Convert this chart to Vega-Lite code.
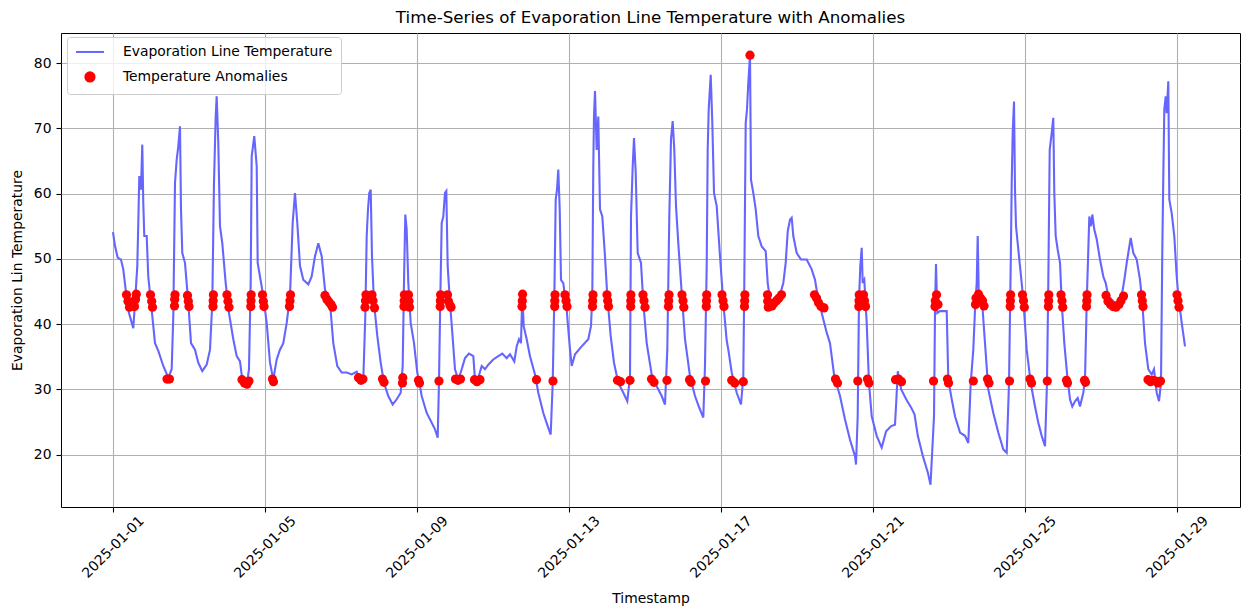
{
  "$schema": "https://vega.github.io/schema/vega-lite/v6.json",
  "width": 1179,
  "height": 474,
  "autosize": {"type": "none"},
  "padding": {"left": 61, "top": 33, "right": 2, "bottom": 102},
  "background": "white",
  "config": {
    "view": {"stroke": "#000000", "strokeWidth": 1},
    "font": "DejaVu Sans"
  },
  "title": {
    "text": "Time-Series of Evaporation Line Temperature with Anomalies",
    "font": "DejaVu Sans",
    "fontSize": 16.7,
    "fontWeight": "normal",
    "color": "#000000",
    "anchor": "middle",
    "frame": "group",
    "baseline": "alphabetic",
    "offset": 10,
    "dy": 17
  },
  "datasets": {
    "line": [
      {"t":"2025-01-01T00:00","v":54.1},{"t":"2025-01-01T01:16","v":52.0},{"t":"2025-01-01T02:58","v":50.2},{"t":"2025-01-01T05:03","v":49.9},{"t":"2025-01-01T06:30","v":48.4},{"t":"2025-01-01T08:01","v":45.3},{"t":"2025-01-01T10:06","v":41.7},{"t":"2025-01-01T12:49","v":39.4},{"t":"2025-01-01T13:54","v":43.3},{"t":"2025-01-01T15:21","v":48.9},{"t":"2025-01-01T15:59","v":55.5},{"t":"2025-01-01T16:37","v":62.7},{"t":"2025-01-01T17:41","v":60.6},{"t":"2025-01-01T18:30","v":67.5},{"t":"2025-01-01T19:08","v":58.6},{"t":"2025-01-01T19:46","v":53.5},{"t":"2025-01-01T21:17","v":53.5},{"t":"2025-01-01T22:17","v":47.3},
      {"t":"2025-01-02T00:26","v":42.2},{"t":"2025-01-02T02:32","v":37.1},{"t":"2025-01-02T04:37","v":35.9},{"t":"2025-01-02T07:46","v":33.6},{"t":"2025-01-02T10:56","v":31.8},{"t":"2025-01-02T13:04","v":33.1},{"t":"2025-01-02T14:05","v":41.2},{"t":"2025-01-02T15:10","v":61.6},{"t":"2025-01-02T16:14","v":65.2},{"t":"2025-01-02T17:14","v":67.2},{"t":"2025-01-02T18:19","v":70.3},{"t":"2025-01-02T18:57","v":57.6},{"t":"2025-01-02T19:46","v":50.9},{"t":"2025-01-02T21:28","v":49.4},{"t":"2025-01-02T23:34","v":43.3},
      {"t":"2025-01-03T01:16","v":37.1},{"t":"2025-01-03T03:47","v":36.1},{"t":"2025-01-03T05:52","v":34.1},{"t":"2025-01-03T08:24","v":32.8},{"t":"2025-01-03T11:11","v":33.8},{"t":"2025-01-03T13:16","v":36.1},{"t":"2025-01-03T14:43","v":43.3},{"t":"2025-01-03T15:47","v":61.6},{"t":"2025-01-03T16:52","v":71.8},{"t":"2025-01-03T17:29","v":74.9},{"t":"2025-01-03T18:30","v":67.8},{"t":"2025-01-03T19:35","v":55.0},{"t":"2025-01-03T21:02","v":52.4},{"t":"2025-01-03T23:11","v":46.3},
      {"t":"2025-01-04T01:16","v":41.7},{"t":"2025-01-04T03:59","v":37.7},{"t":"2025-01-04T06:08","v":35.1},{"t":"2025-01-04T08:13","v":34.3},{"t":"2025-01-04T09:40","v":31.5},{"t":"2025-01-04T12:26","v":30.5},{"t":"2025-01-04T13:53","v":33.1},{"t":"2025-01-04T14:58","v":46.3},{"t":"2025-01-04T15:36","v":65.7},{"t":"2025-01-04T17:14","v":68.8},{"t":"2025-01-04T18:46","v":64.2},{"t":"2025-01-04T19:23","v":49.4},{"t":"2025-01-04T20:50","v":47.3},{"t":"2025-01-04T22:56","v":44.3},
      {"t":"2025-01-05T01:04","v":40.2},{"t":"2025-01-05T03:10","v":34.1},{"t":"2025-01-05T05:14","v":31.5},{"t":"2025-01-05T07:23","v":34.6},{"t":"2025-01-05T09:28","v":36.1},{"t":"2025-01-05T11:34","v":37.1},{"t":"2025-01-05T13:43","v":40.2},{"t":"2025-01-05T15:47","v":44.3},{"t":"2025-01-05T17:29","v":55.5},{"t":"2025-01-05T18:57","v":60.1},{"t":"2025-01-05T20:24","v":55.5},{"t":"2025-01-05T22:07","v":48.9},
      {"t":"2025-01-06T00:11","v":46.8},{"t":"2025-01-06T03:21","v":46.1},{"t":"2025-01-06T05:29","v":47.3},{"t":"2025-01-06T07:35","v":50.4},{"t":"2025-01-06T09:40","v":52.4},{"t":"2025-01-06T11:49","v":50.4},{"t":"2025-01-06T13:53","v":45.3},{"t":"2025-01-06T17:03","v":43.3},{"t":"2025-01-06T19:08","v":37.1},{"t":"2025-01-06T21:40","v":33.6},
      {"t":"2025-01-07T00:26","v":32.6},{"t":"2025-01-07T03:36","v":32.6},{"t":"2025-01-07T06:46","v":32.3},{"t":"2025-01-07T09:55","v":32.7},{"t":"2025-01-07T12:00","v":31.3},{"t":"2025-01-07T14:05","v":31.5},{"t":"2025-01-07T15:21","v":41.2},{"t":"2025-01-07T16:14","v":53.5},{"t":"2025-01-07T17:03","v":57.6},{"t":"2025-01-07T17:52","v":60.1},{"t":"2025-01-07T18:46","v":60.6},{"t":"2025-01-07T19:35","v":50.4},{"t":"2025-01-07T20:50","v":43.3},{"t":"2025-01-07T22:56","v":38.2},
      {"t":"2025-01-08T01:04","v":34.1},{"t":"2025-01-08T03:10","v":31.0},{"t":"2025-01-08T05:52","v":29.0},{"t":"2025-01-08T08:39","v":27.7},{"t":"2025-01-08T11:11","v":28.5},{"t":"2025-01-08T13:42","v":29.5},{"t":"2025-01-08T14:58","v":33.6},{"t":"2025-01-08T15:47","v":46.3},{"t":"2025-01-08T16:37","v":56.8},{"t":"2025-01-08T17:29","v":54.5},{"t":"2025-01-08T18:31","v":46.3},{"t":"2025-01-08T20:01","v":40.2},{"t":"2025-01-08T22:07","v":37.1},
      {"t":"2025-01-09T00:11","v":32.6},{"t":"2025-01-09T01:53","v":30.5},{"t":"2025-01-09T02:58","v":29.0},{"t":"2025-01-09T06:08","v":26.4},{"t":"2025-01-09T09:17","v":24.9},{"t":"2025-01-09T11:22","v":23.9},{"t":"2025-01-09T13:04","v":22.6},{"t":"2025-01-09T13:53","v":31.0},{"t":"2025-01-09T14:43","v":43.8},{"t":"2025-01-09T15:36","v":55.5},{"t":"2025-01-09T16:37","v":56.5},{"t":"2025-01-09T17:41","v":60.1},{"t":"2025-01-09T18:31","v":60.4},{"t":"2025-01-09T19:23","v":48.9},{"t":"2025-01-09T20:50","v":43.3},{"t":"2025-01-09T22:18","v":38.7},
      {"t":"2025-01-10T00:00","v":33.1},{"t":"2025-01-10T02:05","v":31.5},{"t":"2025-01-10T04:14","v":33.1},{"t":"2025-01-10T06:19","v":34.8},{"t":"2025-01-10T08:50","v":35.5},{"t":"2025-01-10T11:34","v":35.1},{"t":"2025-01-10T12:38","v":31.5},{"t":"2025-01-10T14:43","v":31.8},{"t":"2025-01-10T16:52","v":33.6},{"t":"2025-01-10T18:57","v":33.1},{"t":"2025-01-10T21:02","v":33.8},
      {"t":"2025-01-11T00:11","v":34.6},{"t":"2025-01-11T03:21","v":35.1},{"t":"2025-01-11T05:52","v":35.5},{"t":"2025-01-11T08:39","v":34.8},{"t":"2025-01-11T10:44","v":35.4},{"t":"2025-01-11T13:27","v":34.3},{"t":"2025-01-11T14:58","v":36.6},{"t":"2025-01-11T16:25","v":37.7},{"t":"2025-01-11T17:41","v":37.1},{"t":"2025-01-11T18:31","v":44.6},{"t":"2025-01-11T19:23","v":39.7},{"t":"2025-01-11T21:17","v":37.7},{"t":"2025-01-11T23:22","v":35.1},
      {"t":"2025-01-12T02:32","v":32.3},{"t":"2025-01-12T04:37","v":29.5},{"t":"2025-01-12T07:46","v":26.4},{"t":"2025-01-12T10:33","v":24.4},{"t":"2025-01-12T12:26","v":23.1},{"t":"2025-01-12T13:43","v":31.0},{"t":"2025-01-12T14:43","v":43.8},{"t":"2025-01-12T15:36","v":59.1},{"t":"2025-01-12T16:25","v":60.6},{"t":"2025-01-12T17:14","v":63.7},{"t":"2025-01-12T18:08","v":57.6},{"t":"2025-01-12T18:57","v":46.8},{"t":"2025-01-12T20:24","v":46.3},{"t":"2025-01-12T22:33","v":42.2},
      {"t":"2025-01-13T00:38","v":36.1},{"t":"2025-01-13T01:43","v":33.6},{"t":"2025-01-13T03:47","v":35.4},{"t":"2025-01-13T08:01","v":36.6},{"t":"2025-01-13T12:11","v":37.7},{"t":"2025-01-13T13:53","v":39.7},{"t":"2025-01-13T14:43","v":44.3},{"t":"2025-01-13T15:21","v":64.2},{"t":"2025-01-13T15:47","v":71.8},{"t":"2025-01-13T16:25","v":75.7},{"t":"2025-01-13T17:29","v":66.7},{"t":"2025-01-13T18:30","v":71.8},{"t":"2025-01-13T19:35","v":57.6},{"t":"2025-01-13T21:02","v":56.5},{"t":"2025-01-13T22:44","v":50.4},
      {"t":"2025-01-14T00:11","v":44.3},{"t":"2025-01-14T02:20","v":38.2},{"t":"2025-01-14T04:25","v":34.1},{"t":"2025-01-14T07:08","v":31.0},{"t":"2025-01-14T10:18","v":29.5},{"t":"2025-01-14T12:49","v":28.2},{"t":"2025-01-14T14:32","v":32.0},{"t":"2025-01-14T15:10","v":56.5},{"t":"2025-01-14T16:14","v":64.2},{"t":"2025-01-14T17:03","v":68.5},{"t":"2025-01-14T18:08","v":63.2},{"t":"2025-01-14T19:23","v":50.9},{"t":"2025-01-14T21:28","v":49.4},{"t":"2025-01-14T22:56","v":43.3},
      {"t":"2025-01-15T01:04","v":37.1},{"t":"2025-01-15T04:14","v":32.3},{"t":"2025-01-15T07:23","v":30.5},{"t":"2025-01-15T10:33","v":29.0},{"t":"2025-01-15T12:38","v":27.7},{"t":"2025-01-15T14:05","v":36.1},{"t":"2025-01-15T15:21","v":56.5},{"t":"2025-01-15T16:25","v":68.3},{"t":"2025-01-15T17:29","v":71.1},{"t":"2025-01-15T18:30","v":66.7},{"t":"2025-01-15T19:35","v":58.1},{"t":"2025-01-15T21:02","v":52.4},{"t":"2025-01-15T23:11","v":44.8},
      {"t":"2025-01-16T01:16","v":37.7},{"t":"2025-01-16T04:25","v":32.0},{"t":"2025-01-16T07:35","v":29.0},{"t":"2025-01-16T10:17","v":27.2},{"t":"2025-01-16T12:49","v":25.7},{"t":"2025-01-16T13:53","v":33.6},{"t":"2025-01-16T14:58","v":48.9},{"t":"2025-01-16T15:36","v":66.7},{"t":"2025-01-16T16:14","v":72.9},{"t":"2025-01-16T17:30","v":78.2},{"t":"2025-01-16T18:31","v":70.8},{"t":"2025-01-16T19:35","v":60.1},{"t":"2025-01-16T21:17","v":58.1},{"t":"2025-01-16T23:22","v":50.4},
      {"t":"2025-01-17T01:27","v":43.3},{"t":"2025-01-17T03:36","v":37.5},{"t":"2025-01-17T04:37","v":36.1},{"t":"2025-01-17T06:46","v":32.6},{"t":"2025-01-17T09:55","v":29.5},{"t":"2025-01-17T12:38","v":27.7},{"t":"2025-01-17T14:05","v":32.0},{"t":"2025-01-17T14:43","v":46.3},{"t":"2025-01-17T15:36","v":70.8},{"t":"2025-01-17T16:25","v":72.9},{"t":"2025-01-17T17:14","v":76.9},{"t":"2025-01-17T18:19","v":81.2},{"t":"2025-01-17T18:57","v":62.1},{"t":"2025-01-17T20:24","v":60.1},{"t":"2025-01-17T21:55","v":57.6},{"t":"2025-01-17T23:34","v":53.5},
      {"t":"2025-01-18T01:43","v":51.9},{"t":"2025-01-18T04:14","v":51.2},{"t":"2025-01-18T05:30","v":46.3},{"t":"2025-01-18T06:57","v":43.8},{"t":"2025-01-18T10:07","v":43.3},{"t":"2025-01-18T13:16","v":44.5},{"t":"2025-01-18T15:21","v":46.3},{"t":"2025-01-18T16:52","v":49.4},{"t":"2025-01-18T18:08","v":54.2},{"t":"2025-01-18T19:35","v":56.0},{"t":"2025-01-18T20:39","v":56.3},{"t":"2025-01-18T21:40","v":53.5},{"t":"2025-01-18T23:49","v":50.9},
      {"t":"2025-01-19T02:32","v":49.9},{"t":"2025-01-19T06:08","v":49.9},{"t":"2025-01-19T09:17","v":48.4},{"t":"2025-01-19T11:22","v":46.8},{"t":"2025-01-19T13:04","v":44.3},{"t":"2025-01-19T15:36","v":41.7},{"t":"2025-01-19T18:46","v":38.7},{"t":"2025-01-19T20:50","v":37.1},{"t":"2025-01-19T23:34","v":32.0},
      {"t":"2025-01-20T03:10","v":29.0},{"t":"2025-01-20T06:19","v":25.4},{"t":"2025-01-20T09:28","v":22.3},{"t":"2025-01-20T12:38","v":19.8},{"t":"2025-01-20T13:16","v":18.5},{"t":"2025-01-20T14:20","v":25.9},{"t":"2025-01-20T15:10","v":43.8},{"t":"2025-01-20T15:59","v":48.9},{"t":"2025-01-20T16:52","v":51.7},{"t":"2025-01-20T17:29","v":46.3},{"t":"2025-01-20T18:30","v":46.8},{"t":"2025-01-20T20:01","v":40.2},{"t":"2025-01-20T21:28","v":31.0},{"t":"2025-01-20T23:11","v":25.9},
      {"t":"2025-01-21T02:20","v":22.9},{"t":"2025-01-21T05:29","v":21.1},{"t":"2025-01-21T08:17","v":23.6},{"t":"2025-01-21T11:27","v":24.4},{"t":"2025-01-21T13:53","v":24.6},{"t":"2025-01-21T14:40","v":28.0},{"t":"2025-01-21T15:40","v":32.8},{"t":"2025-01-21T17:49","v":30.0},{"t":"2025-01-21T20:58","v":28.5},
      {"t":"2025-01-22T00:08","v":27.2},{"t":"2025-01-22T02:13","v":26.2},{"t":"2025-01-22T04:18","v":22.9},{"t":"2025-01-22T07:28","v":19.8},{"t":"2025-01-22T10:37","v":17.3},{"t":"2025-01-22T12:19","v":15.4},{"t":"2025-01-22T14:32","v":25.9},{"t":"2025-01-22T15:10","v":42.2},{"t":"2025-01-22T15:47","v":49.2},{"t":"2025-01-22T16:37","v":41.7},{"t":"2025-01-22T18:19","v":42.0},{"t":"2025-01-22T22:33","v":42.0},{"t":"2025-01-22T23:34","v":31.5},
      {"t":"2025-01-23T01:43","v":28.5},{"t":"2025-01-23T03:47","v":25.9},{"t":"2025-01-23T06:57","v":23.4},{"t":"2025-01-23T10:07","v":22.9},{"t":"2025-01-23T12:11","v":21.8},{"t":"2025-01-23T13:43","v":31.0},{"t":"2025-01-23T15:21","v":36.1},{"t":"2025-01-23T16:37","v":43.3},{"t":"2025-01-23T17:30","v":46.3},{"t":"2025-01-23T18:08","v":53.5},{"t":"2025-01-23T18:46","v":44.8},{"t":"2025-01-23T20:39","v":44.3},{"t":"2025-01-23T22:44","v":37.1},
      {"t":"2025-01-24T00:49","v":30.0},{"t":"2025-01-24T03:59","v":26.4},{"t":"2025-01-24T07:08","v":23.4},{"t":"2025-01-24T10:18","v":20.8},{"t":"2025-01-24T12:26","v":20.3},{"t":"2025-01-24T13:54","v":31.0},{"t":"2025-01-24T14:58","v":48.9},{"t":"2025-01-24T15:36","v":61.6},{"t":"2025-01-24T16:14","v":69.3},{"t":"2025-01-24T17:03","v":74.1},{"t":"2025-01-24T17:41","v":60.6},{"t":"2025-01-24T18:19","v":55.0},{"t":"2025-01-24T19:23","v":52.4},{"t":"2025-01-24T20:50","v":48.9},{"t":"2025-01-24T22:56","v":43.8},
      {"t":"2025-01-25T01:04","v":36.1},{"t":"2025-01-25T03:36","v":31.0},{"t":"2025-01-25T06:19","v":27.4},{"t":"2025-01-25T08:24","v":24.9},{"t":"2025-01-25T10:33","v":22.9},{"t":"2025-01-25T12:38","v":21.3},{"t":"2025-01-25T13:53","v":31.0},{"t":"2025-01-25T14:43","v":46.3},{"t":"2025-01-25T15:36","v":66.7},{"t":"2025-01-25T16:52","v":69.3},{"t":"2025-01-25T17:52","v":71.6},{"t":"2025-01-25T18:30","v":60.1},{"t":"2025-01-25T19:23","v":53.5},{"t":"2025-01-25T20:39","v":51.4},{"t":"2025-01-25T22:07","v":49.4},{"t":"2025-01-25T23:11","v":43.3},
      {"t":"2025-01-26T00:49","v":37.1},{"t":"2025-01-26T02:43","v":32.0},{"t":"2025-01-26T04:25","v":28.5},{"t":"2025-01-26T05:52","v":27.4},{"t":"2025-01-26T07:35","v":28.2},{"t":"2025-01-26T09:17","v":28.7},{"t":"2025-01-26T10:44","v":27.4},{"t":"2025-01-26T12:49","v":29.5},{"t":"2025-01-26T13:53","v":31.5},{"t":"2025-01-26T14:58","v":43.3},{"t":"2025-01-26T15:59","v":51.4},{"t":"2025-01-26T16:37","v":56.5},{"t":"2025-01-26T17:41","v":55.0},{"t":"2025-01-26T18:31","v":56.8},{"t":"2025-01-26T19:46","v":54.5},{"t":"2025-01-26T21:17","v":53.0},{"t":"2025-01-26T23:22","v":49.9},
      {"t":"2025-01-27T01:27","v":47.3},{"t":"2025-01-27T02:58","v":46.3},{"t":"2025-01-27T04:37","v":44.3},{"t":"2025-01-27T07:46","v":43.5},{"t":"2025-01-27T10:56","v":43.0},{"t":"2025-01-27T13:04","v":44.3},{"t":"2025-01-27T14:43","v":46.8},{"t":"2025-01-27T16:14","v":49.4},{"t":"2025-01-27T17:14","v":50.9},{"t":"2025-01-27T18:46","v":53.2},{"t":"2025-01-27T20:24","v":50.9},{"t":"2025-01-27T22:33","v":49.9},
      {"t":"2025-01-28T00:38","v":46.8},{"t":"2025-01-28T02:05","v":43.3},{"t":"2025-01-28T03:47","v":37.1},{"t":"2025-01-28T05:52","v":33.1},{"t":"2025-01-28T08:01","v":32.3},{"t":"2025-01-28T09:28","v":33.1},{"t":"2025-01-28T11:11","v":29.5},{"t":"2025-01-28T12:38","v":28.2},{"t":"2025-01-28T13:53","v":31.0},{"t":"2025-01-28T14:43","v":51.4},{"t":"2025-01-28T15:21","v":62.7},{"t":"2025-01-28T15:59","v":72.9},{"t":"2025-01-28T16:52","v":74.9},{"t":"2025-01-28T17:29","v":72.3},{"t":"2025-01-28T18:30","v":77.2},{"t":"2025-01-28T19:08","v":59.1},{"t":"2025-01-28T20:39","v":57.0},{"t":"2025-01-28T22:17","v":53.5},{"t":"2025-01-28T23:49","v":47.3},
      {"t":"2025-01-29T00:49","v":44.3},{"t":"2025-01-29T02:58","v":40.2},{"t":"2025-01-29T05:03","v":36.6}
    ],
    "anom": [
      {"t":"2025-01-01T08:32","v":44.5},{"t":"2025-01-01T09:28","v":43.5},{"t":"2025-01-01T10:25","v":42.6},{"t":"2025-01-01T13:35","v":42.7},{"t":"2025-01-01T14:13","v":43.8},{"t":"2025-01-01T14:43","v":44.6},
      {"t":"2025-01-01T23:41","v":44.5},{"t":"2025-01-02T00:26","v":43.5},{"t":"2025-01-02T00:57","v":42.6},
      {"t":"2025-01-02T14:50","v":42.8},{"t":"2025-01-02T14:58","v":43.8},{"t":"2025-01-02T15:10","v":44.5},
      {"t":"2025-01-02T23:03","v":44.4},{"t":"2025-01-02T23:34","v":43.5},{"t":"2025-01-03T00:00","v":42.7},
      {"t":"2025-01-03T15:09","v":42.7},{"t":"2025-01-03T15:17","v":43.6},{"t":"2025-01-03T15:25","v":44.5},
      {"t":"2025-01-04T00:00","v":44.5},{"t":"2025-01-04T00:38","v":43.5},{"t":"2025-01-04T01:16","v":42.6},
      {"t":"2025-01-04T15:02","v":42.7},{"t":"2025-01-04T15:10","v":43.6},{"t":"2025-01-04T15:17","v":44.5},
      {"t":"2025-01-04T22:25","v":44.5},{"t":"2025-01-04T22:56","v":43.5},{"t":"2025-01-04T23:22","v":42.7},
      {"t":"2025-01-05T15:28","v":42.7},{"t":"2025-01-05T15:47","v":43.6},{"t":"2025-01-05T16:07","v":44.5},
      {"t":"2025-01-06T13:53","v":44.4},{"t":"2025-01-06T15:09","v":43.8},{"t":"2025-01-06T16:25","v":43.4},{"t":"2025-01-06T17:41","v":43.0},{"t":"2025-01-06T18:38","v":42.6},
      {"t":"2025-01-07T15:10","v":42.6},{"t":"2025-01-07T15:28","v":43.6},{"t":"2025-01-07T15:47","v":44.5},{"t":"2025-01-07T19:35","v":44.5},{"t":"2025-01-07T20:13","v":43.6},{"t":"2025-01-07T21:10","v":42.5},
      {"t":"2025-01-08T15:47","v":42.7},{"t":"2025-01-08T15:55","v":43.6},{"t":"2025-01-08T16:02","v":44.5},{"t":"2025-01-08T18:38","v":44.5},{"t":"2025-01-08T18:57","v":43.5},{"t":"2025-01-08T19:16","v":42.6},
      {"t":"2025-01-09T14:39","v":42.7},{"t":"2025-01-09T14:47","v":43.6},{"t":"2025-01-09T14:55","v":44.5},{"t":"2025-01-09T19:16","v":44.5},{"t":"2025-01-09T19:53","v":43.5},{"t":"2025-01-09T20:50","v":42.9},{"t":"2025-01-09T21:28","v":42.6},
      {"t":"2025-01-11T18:19","v":42.7},{"t":"2025-01-11T18:31","v":43.6},{"t":"2025-01-11T18:41","v":44.6},
      {"t":"2025-01-12T14:58","v":42.7},{"t":"2025-01-12T15:02","v":43.6},{"t":"2025-01-12T15:10","v":44.5},
      {"t":"2025-01-12T21:28","v":44.5},{"t":"2025-01-12T22:07","v":43.6},{"t":"2025-01-12T22:44","v":42.7},
      {"t":"2025-01-13T14:50","v":42.7},{"t":"2025-01-13T14:58","v":43.6},{"t":"2025-01-13T15:10","v":44.5},
      {"t":"2025-01-14T00:00","v":44.5},{"t":"2025-01-14T00:26","v":43.6},{"t":"2025-01-14T00:57","v":42.7},
      {"t":"2025-01-14T14:58","v":42.7},{"t":"2025-01-14T15:02","v":43.6},{"t":"2025-01-14T15:05","v":44.5},
      {"t":"2025-01-14T22:44","v":44.5},{"t":"2025-01-14T23:22","v":43.6},{"t":"2025-01-15T00:00","v":42.6},
      {"t":"2025-01-15T14:50","v":42.7},{"t":"2025-01-15T14:58","v":43.6},{"t":"2025-01-15T15:10","v":44.5},
      {"t":"2025-01-15T23:22","v":44.5},{"t":"2025-01-16T00:00","v":43.6},{"t":"2025-01-16T00:31","v":42.6},
      {"t":"2025-01-16T14:43","v":42.7},{"t":"2025-01-16T14:50","v":43.6},{"t":"2025-01-16T14:58","v":44.5},
      {"t":"2025-01-17T00:38","v":44.5},{"t":"2025-01-17T01:16","v":43.6},{"t":"2025-01-17T01:53","v":42.7},
      {"t":"2025-01-17T14:50","v":42.7},{"t":"2025-01-17T14:58","v":43.6},{"t":"2025-01-17T15:05","v":44.5},
      {"t":"2025-01-17T18:19","v":81.2},
      {"t":"2025-01-18T05:22","v":44.5},{"t":"2025-01-18T05:30","v":43.5},{"t":"2025-01-18T05:52","v":42.6},{"t":"2025-01-18T06:57","v":43.0},{"t":"2025-01-18T08:13","v":42.8},{"t":"2025-01-18T09:28","v":43.2},{"t":"2025-01-18T11:03","v":43.6},{"t":"2025-01-18T12:38","v":44.0},{"t":"2025-01-18T14:13","v":44.5},
      {"t":"2025-01-19T11:03","v":44.5},{"t":"2025-01-19T12:19","v":44.0},{"t":"2025-01-19T13:35","v":43.3},{"t":"2025-01-19T15:10","v":42.7},{"t":"2025-01-19T17:03","v":42.5},
      {"t":"2025-01-20T15:02","v":42.7},{"t":"2025-01-20T15:10","v":43.6},{"t":"2025-01-20T15:17","v":44.5},{"t":"2025-01-20T18:00","v":44.5},{"t":"2025-01-20T18:38","v":43.6},{"t":"2025-01-20T19:16","v":42.7},
      {"t":"2025-01-22T15:10","v":42.7},{"t":"2025-01-22T15:21","v":43.6},{"t":"2025-01-22T16:07","v":44.5},{"t":"2025-01-22T17:03","v":43.0},
      {"t":"2025-01-23T16:44","v":43.0},{"t":"2025-01-23T17:03","v":44.0},{"t":"2025-01-23T18:38","v":44.6},{"t":"2025-01-23T19:53","v":44.0},{"t":"2025-01-23T21:10","v":43.6},{"t":"2025-01-23T22:07","v":42.8},
      {"t":"2025-01-24T14:39","v":42.7},{"t":"2025-01-24T14:47","v":43.6},{"t":"2025-01-24T14:55","v":44.5},
      {"t":"2025-01-24T22:25","v":44.5},{"t":"2025-01-24T23:03","v":43.6},{"t":"2025-01-24T23:34","v":42.6},
      {"t":"2025-01-25T14:47","v":42.7},{"t":"2025-01-25T14:55","v":43.6},{"t":"2025-01-25T15:02","v":44.5},
      {"t":"2025-01-25T22:44","v":44.5},{"t":"2025-01-25T23:22","v":43.6},{"t":"2025-01-25T23:49","v":42.6},
      {"t":"2025-01-26T14:50","v":42.7},{"t":"2025-01-26T15:02","v":43.6},{"t":"2025-01-26T15:10","v":44.5},
      {"t":"2025-01-27T03:10","v":44.4},{"t":"2025-01-27T04:25","v":43.5},{"t":"2025-01-27T06:00","v":43.0},{"t":"2025-01-27T07:35","v":42.7},{"t":"2025-01-27T09:28","v":42.6},{"t":"2025-01-27T11:22","v":43.0},{"t":"2025-01-27T12:38","v":43.6},{"t":"2025-01-27T14:13","v":44.3},
      {"t":"2025-01-28T01:35","v":44.5},{"t":"2025-01-28T02:05","v":43.6},{"t":"2025-01-28T02:32","v":42.7},
      {"t":"2025-01-29T00:00","v":44.5},{"t":"2025-01-29T00:38","v":43.6},{"t":"2025-01-29T01:16","v":42.6},
      {"t":"2025-01-02T10:07","v":31.6},{"t":"2025-01-02T11:41","v":31.6},
      {"t":"2025-01-04T09:28","v":31.5},{"t":"2025-01-04T11:03","v":31.0},{"t":"2025-01-04T12:38","v":30.8},{"t":"2025-01-04T13:53","v":31.3},
      {"t":"2025-01-05T04:44","v":31.6},{"t":"2025-01-05T05:22","v":31.2},
      {"t":"2025-01-07T11:03","v":31.8},{"t":"2025-01-07T12:38","v":31.4},{"t":"2025-01-07T13:53","v":31.6},
      {"t":"2025-01-08T02:13","v":31.6},{"t":"2025-01-08T03:10","v":31.1},
      {"t":"2025-01-08T14:50","v":31.0},{"t":"2025-01-08T15:02","v":31.8},
      {"t":"2025-01-09T00:57","v":31.4},{"t":"2025-01-09T01:35","v":31.0},
      {"t":"2025-01-09T13:53","v":31.3},
      {"t":"2025-01-10T00:19","v":31.6},{"t":"2025-01-10T01:53","v":31.4},{"t":"2025-01-10T03:28","v":31.6},
      {"t":"2025-01-10T12:19","v":31.5},{"t":"2025-01-10T13:53","v":31.2},{"t":"2025-01-10T15:47","v":31.5},
      {"t":"2025-01-12T03:28","v":31.5},{"t":"2025-01-12T13:53","v":31.3},
      {"t":"2025-01-14T06:38","v":31.4},{"t":"2025-01-14T08:32","v":31.2},{"t":"2025-01-14T14:32","v":31.4},
      {"t":"2025-01-15T04:07","v":31.6},{"t":"2025-01-15T05:41","v":31.1},{"t":"2025-01-15T13:53","v":31.4},
      {"t":"2025-01-16T04:07","v":31.5},{"t":"2025-01-16T05:03","v":31.1},{"t":"2025-01-16T14:13","v":31.3},
      {"t":"2025-01-17T06:47","v":31.4},{"t":"2025-01-17T08:41","v":31.0},{"t":"2025-01-17T14:05","v":31.2},
      {"t":"2025-01-20T00:19","v":31.6},{"t":"2025-01-20T01:35","v":31.0},{"t":"2025-01-20T14:24","v":31.3},
      {"t":"2025-01-20T20:32","v":31.6},{"t":"2025-01-20T21:28","v":31.0},
      {"t":"2025-01-21T14:13","v":31.5},{"t":"2025-01-21T16:07","v":31.6},{"t":"2025-01-21T18:00","v":31.2},
      {"t":"2025-01-22T14:13","v":31.3},{"t":"2025-01-22T23:03","v":31.6},{"t":"2025-01-22T23:41","v":31.0},
      {"t":"2025-01-23T15:21","v":31.3},{"t":"2025-01-24T00:19","v":31.6},{"t":"2025-01-24T01:16","v":31.0},
      {"t":"2025-01-24T14:13","v":31.3},{"t":"2025-01-25T03:10","v":31.6},{"t":"2025-01-25T04:07","v":31.0},
      {"t":"2025-01-25T14:05","v":31.3},{"t":"2025-01-26T02:13","v":31.4},{"t":"2025-01-26T02:50","v":31.0},
      {"t":"2025-01-26T13:35","v":31.4},{"t":"2025-01-26T14:13","v":31.1},
      {"t":"2025-01-28T05:41","v":31.5},{"t":"2025-01-28T07:16","v":31.2},{"t":"2025-01-28T08:50","v":31.4},{"t":"2025-01-28T10:25","v":31.3},{"t":"2025-01-28T12:00","v":31.0},{"t":"2025-01-28T13:35","v":31.3}
    ]
  },
  "encoding": {
    "x": {
      "field": "t",
      "type": "temporal",
      "scale": {"domain": ["2024-12-30T15:10:00", "2025-01-30T15:47:00"], "nice": false},
      "axis": {
        "title": "Timestamp",
        "titleFont": "DejaVu Sans",
        "titleFontSize": 13.9,
        "titleFontWeight": "normal",
        "titleColor": "#000000",
        "titleX": 589.5,
        "titleY": 91,
        "titleAlign": "center",
        "titleBaseline": "middle",
        "values": [
          {"year": 2025, "month": 1, "date": 1},
          {"year": 2025, "month": 1, "date": 5},
          {"year": 2025, "month": 1, "date": 9},
          {"year": 2025, "month": 1, "date": 13},
          {"year": 2025, "month": 1, "date": 17},
          {"year": 2025, "month": 1, "date": 21},
          {"year": 2025, "month": 1, "date": 25},
          {"year": 2025, "month": 1, "date": 29}
        ],
        "format": "%Y-%m-%d",
        "labelAngle": -45,
        "labelAlign": "center",
        "labelBaseline": "middle",
        "labelPadding": 35,
        "labelFont": "DejaVu Sans",
        "labelFontSize": 13.9,
        "labelColor": "#000000",
        "labelOverlap": false,
        "labelFlush": false,
        "labelBound": false,
        "domain": false,
        "ticks": true,
        "tickSize": 5,
        "tickWidth": 1.1,
        "tickColor": "#000000",
        "grid": true,
        "gridColor": "#b0b0b0",
        "gridWidth": 1.1
      }
    },
    "y": {
      "field": "v",
      "type": "quantitative",
      "scale": {"domain": [12.0, 84.6], "nice": false, "zero": false},
      "axis": {
        "title": "Evaporation Lin Temperature",
        "titleFont": "DejaVu Sans",
        "titleFontSize": 13.9,
        "titleFontWeight": "normal",
        "titleColor": "#000000",
        "titleAngle": 270,
        "titleX": -44,
        "titleY": 237,
        "titleAlign": "center",
        "titleBaseline": "middle",
        "values": [20, 30, 40, 50, 60, 70, 80],
        "labelFont": "DejaVu Sans",
        "labelFontSize": 13.9,
        "labelColor": "#000000",
        "labelPadding": 5,
        "domain": false,
        "ticks": true,
        "tickSize": 5,
        "tickWidth": 1.1,
        "tickColor": "#000000",
        "grid": true,
        "gridColor": "#b0b0b0",
        "gridWidth": 1.1
      }
    }
  },
  "layer": [
    {
      "data": {"name": "line"},
      "mark": {"type": "line", "strokeWidth": 2.1, "interpolate": "linear"},
      "encoding": {
        "color": {
          "datum": "Evaporation Line Temperature",
          "type": "nominal",
          "scale": {
            "domain": ["Evaporation Line Temperature", "Temperature Anomalies"],
            "range": ["#6666ff", "#ff0000"]
          },
          "legend": {
            "title": null,
            "orient": "none",
            "legendX": 6,
            "legendY": 4,
            "padding": 8,
            "strokeColor": "#cccccc",
            "fillColor": "rgba(255,255,255,0.8)",
            "cornerRadius": 3,
            "symbolSize": 100,
            "symbolStrokeWidth": 2,
            "symbolOffset": 8,
            "labelOffset": 26,
            "rowPadding": 9,
            "labelFont": "DejaVu Sans",
            "labelFontSize": 13.9,
            "labelColor": "#000000",
            "labelLimit": 400,
            "encode": {
              "symbols": {
                "update": {
                  "shape": {"signal": "datum.value === 'Evaporation Line Temperature' ? 'M-2.8,0H2.8' : 'circle'"},
                  "size": {"signal": "datum.value === 'Evaporation Line Temperature' ? 100 : 85"},
                  "fill": {"signal": "datum.value === 'Evaporation Line Temperature' ? 'transparent' : '#ff0000'"},
                  "stroke": {"signal": "datum.value === 'Evaporation Line Temperature' ? '#6666ff' : 'transparent'"},
                  "strokeWidth": {"value": 2},
                  "opacity": {"value": 1},
                  "fillOpacity": {"value": 1},
                  "strokeOpacity": {"value": 1}
                }
              }
            }
          }
        }
      }
    },
    {
      "data": {"name": "anom"},
      "mark": {"type": "point", "filled": true, "size": 85, "opacity": 1},
      "encoding": {
        "color": {"datum": "Temperature Anomalies", "type": "nominal"}
      }
    }
  ]
}
